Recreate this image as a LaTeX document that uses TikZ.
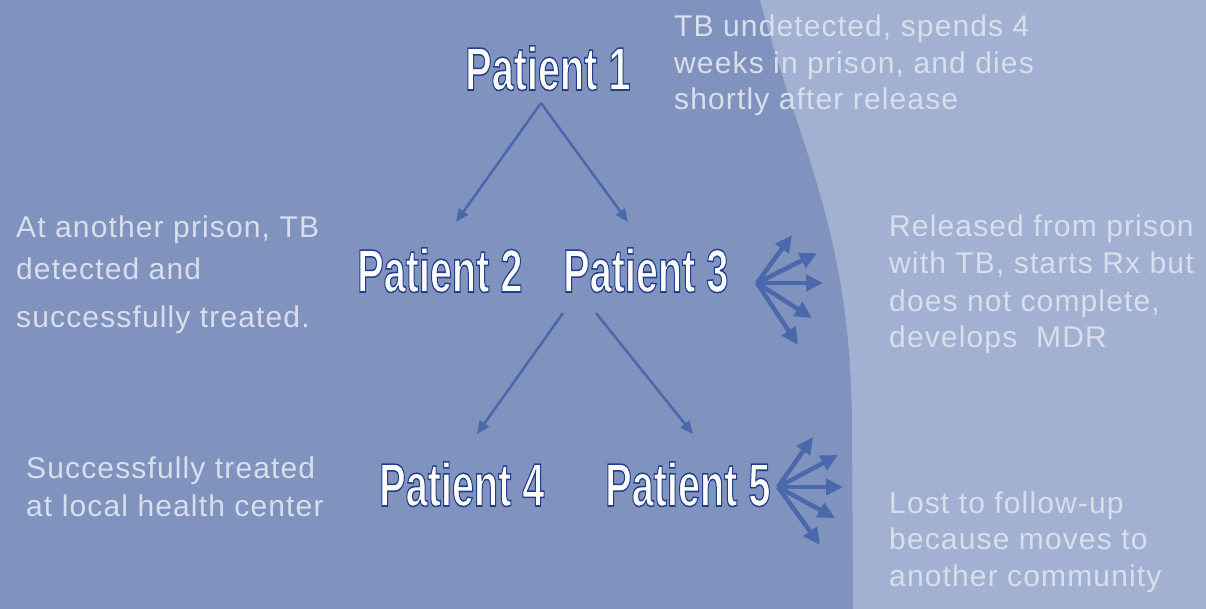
\documentclass[tikz,border=0pt]{standalone}
\usepackage{fontspec}
\usepackage{graphicx}
\setmainfont{Liberation Sans}
\newfontfamily\bodyf[LetterSpace=3.8]{Liberation Sans}
\newfontfamily\patf[FakeBold=2.5]{Liberation Sans Bold}
\usetikzlibrary{arrows.meta}
\definecolor{bgdark}{HTML}{7F93BE}
\definecolor{bglight}{HTML}{A2B1D1}
\definecolor{txt}{HTML}{D8DEEC}
\definecolor{pline}{HTML}{213E8C}
\definecolor{arr}{HTML}{4B68AC}
\newcommand\olabel[1]{%
  \scalebox{0.65}[1]{\fontsize{61}{61}\selectfont\patf\color{white}%
  \special{pdf:literal direct 0.129 0.243 0.549 RG}#1}}
\tikzset{
  desc/.style={text=txt, font=\bodyf\fontsize{30}{37}\selectfont, anchor=base west, inner sep=0pt},
  patient/.style={anchor=base west, inner sep=0pt},
  thinarrow/.style={draw=arr, line width=2.5pt, -{Triangle[length=13pt,width=11pt]}},
  fanarrow/.style={draw=arr, line width=4.5pt, -{Triangle[length=17pt,width=16pt]}}
}
\begin{document}
\begin{tikzpicture}[x=1pt,y=-1pt]
\useasboundingbox (0,0) rectangle (1206,609);
\fill[bgdark] (0,0) rectangle (1206,609);
\fill[bglight] (760,0) .. controls (800,150) and (850,230) .. (852,420) -- (853,609) -- (1206,609) -- (1206,0) -- cycle;

% patient labels
\node[patient] (p1) at (465,90) {\olabel{Patient 1}};
\node[patient] (p2) at (357,292) {\olabel{Patient 2}};
\node[patient] (p3) at (563,292) {\olabel{Patient 3}};
\node[patient] (p4) at (379,506) {\olabel{Patient 4}};
\node[patient] (p5) at (605,506) {\olabel{Patient 5}};

% descriptions
\node[desc] (d1) at (674,37) {\vtop{\baselineskip=36.5pt\hbox{TB undetected, spends 4}\hbox{weeks in prison, and dies}\hbox{shortly after release}}};
\node[desc] (d2) at (16,238) {\vtop{\baselineskip=42pt\hbox{At another prison, TB}\hbox{detected and}\vskip6pt\hbox{successfully treated.}}};
\node[desc] (d3) at (889,237) {\vtop{\baselineskip=37pt\hbox{Released from prison}\hbox{with TB, starts Rx but}\hbox{does not complete,}\hbox{develops\ \ MDR}}};
\node[desc] (d4) at (26,478) {\vtop{\baselineskip=38pt\hbox{Successfully treated}\hbox{at local health center}}};
\node[desc] (d5) at (889,513) {\vtop{\baselineskip=36.5pt\hbox{Lost to follow-up}\hbox{because moves to}\hbox{another community}}};

% tree connectors
\coordinate (a1) at (541,103);
\coordinate (t2) at (456,222);
\coordinate (t3) at (628,222);
\coordinate (s4) at (563,313);
\coordinate (s5) at (596,313);
\coordinate (t4) at (477,434);
\coordinate (t5) at (693,434);
\draw[thinarrow] (a1) -- (t2);
\draw[thinarrow] (a1) -- (t3);
\draw[thinarrow] (s4) -- (t4);
\draw[thinarrow] (s5) -- (t5);

% fan from patient 3
\coordinate (o3) at (757,283);
\coordinate (f3a) at (792,235);
\coordinate (f3b) at (817,253);
\coordinate (f3c) at (823,283);
\coordinate (f3d) at (812,318);
\coordinate (f3e) at (798,345);
\foreach \t in {f3a,f3b,f3c,f3d,f3e} \draw[fanarrow] (o3) -- (\t);

% fan from patient 5
\coordinate (o5) at (778,487);
\coordinate (f5a) at (813,437);
\coordinate (f5b) at (838,455);
\coordinate (f5c) at (843,487);
\coordinate (f5d) at (835,518);
\coordinate (f5e) at (820,545);
\foreach \t in {f5a,f5b,f5c,f5d,f5e} \draw[fanarrow] (o5) -- (\t);
\end{tikzpicture}
\end{document}
